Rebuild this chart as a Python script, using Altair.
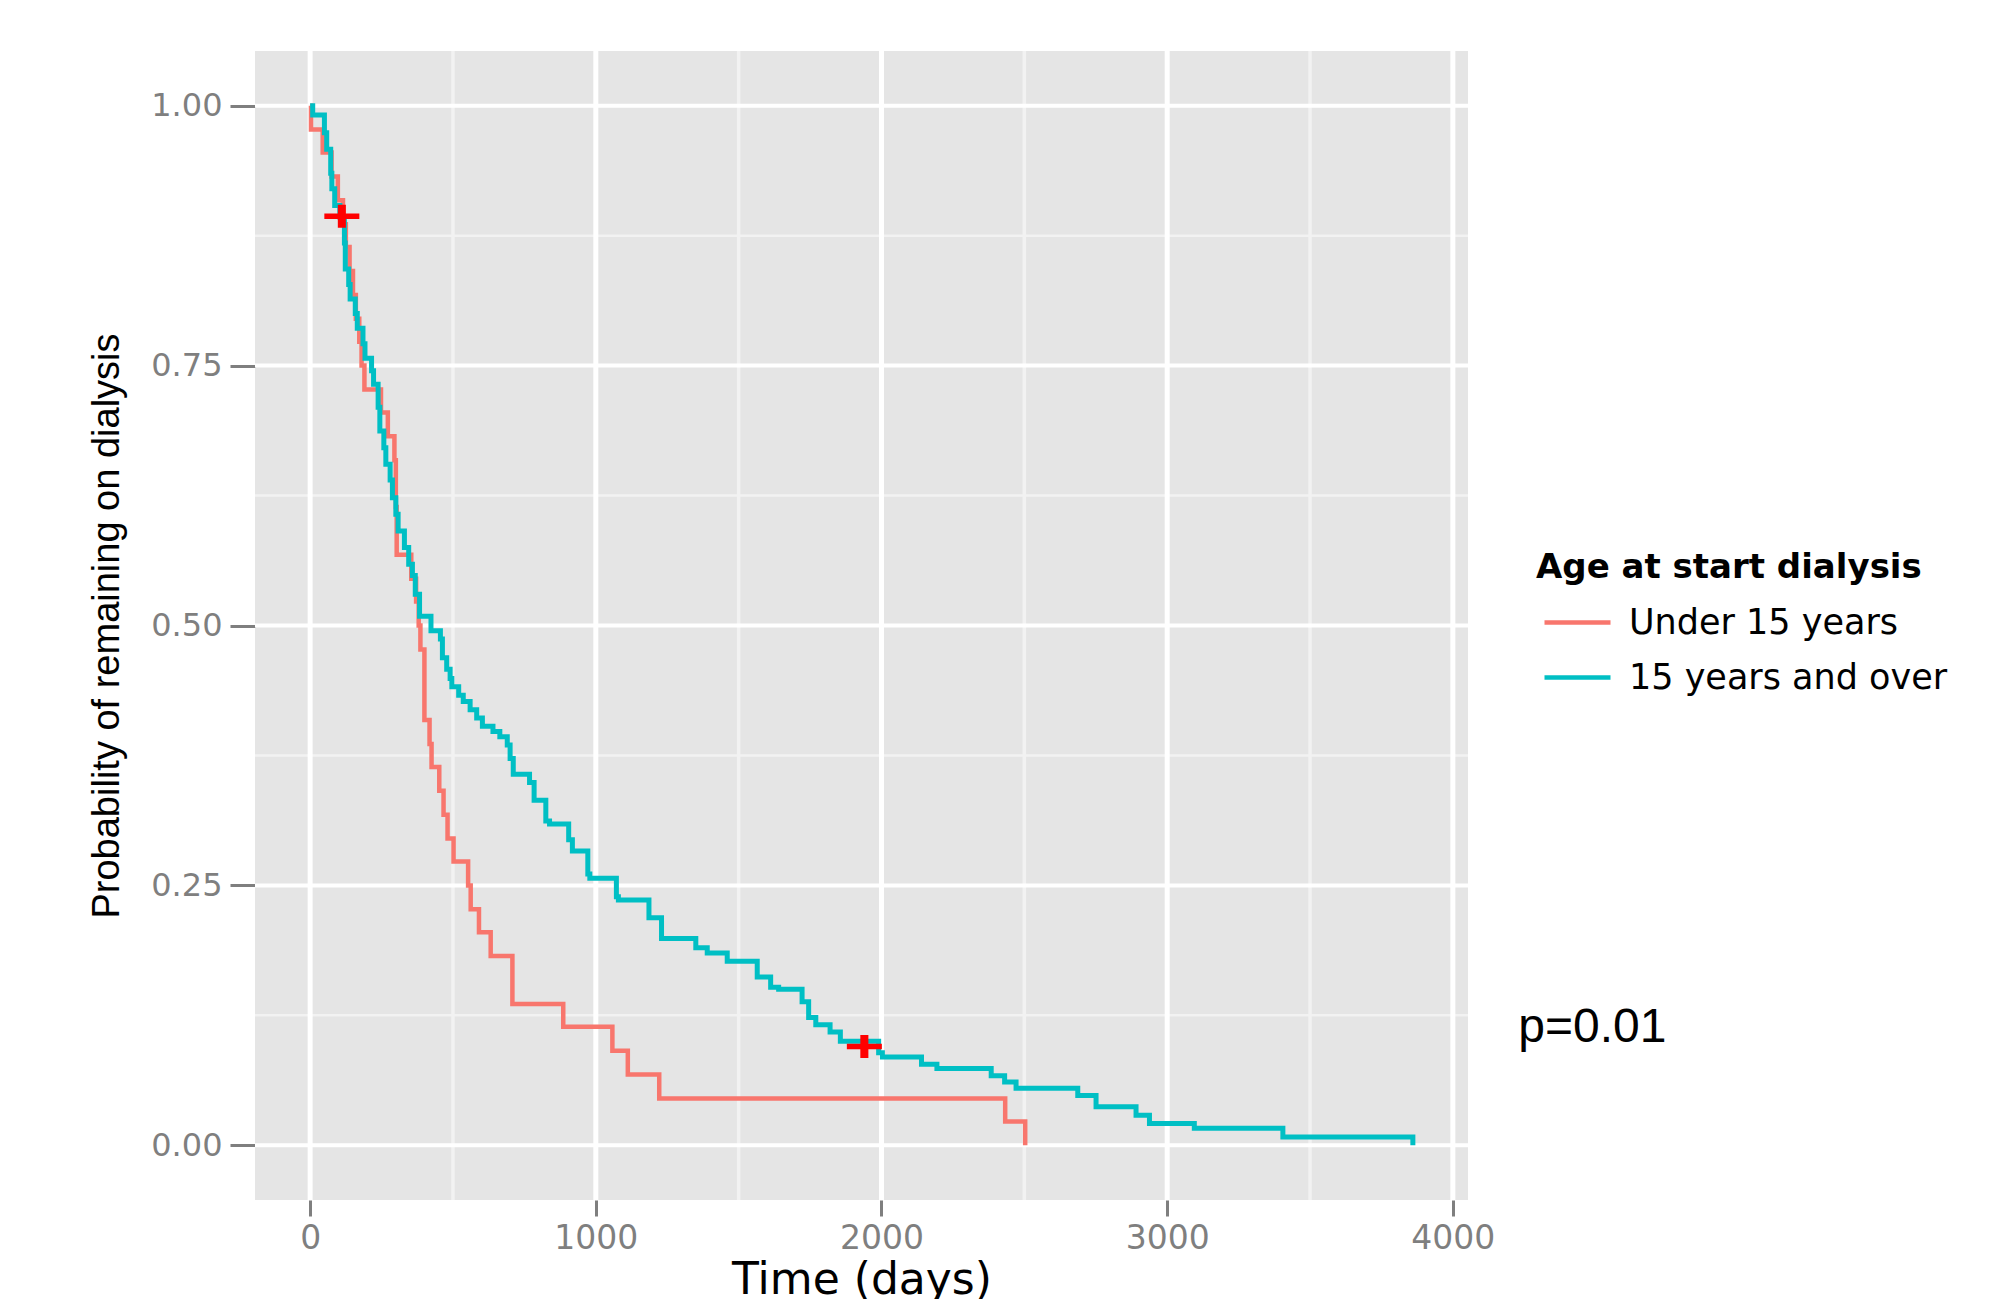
import altair as alt
import pandas as pd

# ---------------- data ----------------
groups = ["Under 15 years", "15 years and over"]
colors = ["#F8766D", "#00BFC4"]

red_t = [0, 3, 44, 75, 97, 115, 125, 138, 150, 160, 172, 180, 190, 248, 272, 295, 300, 303,
         354, 371, 380, 386, 400, 418, 425, 452, 467, 481, 502, 553, 562, 591, 632, 708,
         886, 1058, 1112, 1222, 2433, 2503]
red_s = [1.000, 0.977, 0.955, 0.932, 0.909, 0.886, 0.864, 0.841, 0.818, 0.795, 0.773, 0.750,
         0.727, 0.705, 0.682, 0.659, 0.614, 0.568, 0.545, 0.523, 0.500, 0.477, 0.409, 0.386,
         0.364, 0.341, 0.318, 0.295, 0.273, 0.250, 0.227, 0.205, 0.182, 0.136, 0.114, 0.091,
         0.068, 0.045, 0.023, 0.000]

cyan_t = [0, 9, 50, 58, 72, 76, 86, 104, 120, 123, 135, 140, 158, 165, 185, 192, 215, 222,
          238, 244, 258, 265, 280, 288, 300, 308, 330, 345, 358, 368, 383, 423, 456, 463,
          478, 490, 496, 520, 536, 560, 583, 603, 640, 664, 690, 700, 711, 768, 784, 825,
          838, 905, 918, 972, 979, 1072, 1079, 1186, 1230, 1350, 1390, 1460, 1565, 1612,
          1640, 1722, 1745, 1770, 1820, 1856, 1990, 2003, 2140, 2194, 2384, 2431, 2471,
          2687, 2751, 2891, 2938, 3095, 3405, 3860]
cyan_s = [1.000, 0.991, 0.974, 0.958, 0.935, 0.920, 0.904, 0.893, 0.868, 0.843, 0.828, 0.814,
          0.800, 0.786, 0.771, 0.757, 0.745, 0.732, 0.710, 0.687, 0.671, 0.655, 0.640, 0.623,
          0.607, 0.591, 0.575, 0.559, 0.548, 0.530, 0.509, 0.495, 0.487, 0.469, 0.458, 0.449,
          0.441, 0.433, 0.427, 0.419, 0.411, 0.403, 0.398, 0.393, 0.385, 0.372, 0.357, 0.349,
          0.332, 0.312, 0.309, 0.294, 0.283, 0.261, 0.257, 0.239, 0.236, 0.219, 0.199, 0.190,
          0.185, 0.177, 0.162, 0.152, 0.150, 0.138, 0.123, 0.116, 0.109, 0.100, 0.089, 0.085,
          0.078, 0.074, 0.067, 0.061, 0.055, 0.048, 0.037, 0.029, 0.021, 0.0165, 0.008, 0.000]

censor_t = [111, 1940]
censor_s = [0.8936, 0.095]

x_major = [0, 1000, 2000, 3000, 4000]
x_minor = [500, 1500, 2500, 3500]
y_major = [0.0, 0.25, 0.5, 0.75, 1.0]
y_minor = [0.125, 0.375, 0.625, 0.875]

p_text = ["p=0.01"]
p_t = [4229]
p_s = [0.099]

# ---------------- tables ----------------
curves = pd.DataFrame({
    "t": red_t + cyan_t,
    "s": red_s + cyan_s,
    "group": [groups[0]] * len(red_t) + [groups[1]] * len(cyan_t),
})
censors = pd.DataFrame({"t": censor_t, "s": censor_s})
xmaj = pd.DataFrame({"v": x_major})
xmin = pd.DataFrame({"v": x_minor})
ymaj = pd.DataFrame({"v": y_major})
ymin = pd.DataFrame({"v": y_minor})
ptab = pd.DataFrame({"label": p_text, "t": p_t, "s": p_s})

# ---------------- scales / axes ----------------
xscale = alt.Scale(domain=[-193, 4053], nice=False, zero=False)
yscale = alt.Scale(domain=[-0.0526, 1.0526], nice=False, zero=False)

xaxis = alt.Axis(
    values=x_major, format="d", title="Time (days)", grid=False, domain=False,
    tickSize=16, tickWidth=3, tickColor="#7F7F7F",
    labelFont="DejaVu Sans", labelFontSize=33, labelColor="#7F7F7F", labelPadding=6,
    labelFlush=False, labelOverlap=False,
    titleFont="DejaVu Sans", titleFontSize=44, titleFontWeight="normal",
    titleColor="#000000", titlePadding=3,
)
yaxis = alt.Axis(
    values=y_major, format=".2f", title="Probability of remaining on dialysis",
    grid=False, domain=False,
    tickSize=25, tickWidth=3, tickColor="#7F7F7F",
    labelFont="DejaVu Sans", labelFontSize=32, labelColor="#7F7F7F", labelPadding=8,
    labelOverlap=False,
    titleFont="Liberation Sans", titleFontSize=38,
    titleFontWeight="normal", titleColor="#000000", titlePadding=24,
)


def X(f):
    return alt.X(f"{f}:Q", scale=xscale, axis=xaxis)


def Y(f):
    return alt.Y(f"{f}:Q", scale=yscale, axis=yaxis)


color_enc = alt.Color(
    "group:N",
    scale=alt.Scale(domain=groups, range=colors),
    legend=alt.Legend(
        title="Age at start dialysis", orient="none", legendX=1281, legendY=500,
        padding=0, titleFont="DejaVu Sans", titleFontSize=34, titleFontWeight="bold",
        titleColor="#000000", titlePadding=15, titleLimit=800,
        labelFont="DejaVu Sans", labelFontSize=35, labelColor="#000000", labelLimit=800,
        symbolType="stroke", symbolSize=4356, symbolStrokeWidth=4.5, symbolOffset=6,
        labelOffset=16, clipHeight=45, rowPadding=10,
    ),
)

# ---------------- layers ----------------
g_xmin = alt.Chart(xmin).mark_rule(color="#F2F2F2", strokeWidth=3.5).encode(x=X("v"))
g_ymin = alt.Chart(ymin).mark_rule(color="#F2F2F2", strokeWidth=2.5).encode(y=Y("v"))
g_xmaj = alt.Chart(xmaj).mark_rule(color="#FFFFFF", strokeWidth=5).encode(x=X("v"))
g_ymaj = alt.Chart(ymaj).mark_rule(color="#FFFFFF", strokeWidth=4).encode(y=Y("v"))

red_line = alt.Chart(curves).transform_filter(
    alt.datum.group == groups[0]
).mark_line(interpolate="step-after", strokeWidth=4.5).encode(
    x=X("t"), y=Y("s"), color=color_enc
)
cyan_line = alt.Chart(curves).transform_filter(
    alt.datum.group == groups[1]
).mark_line(interpolate="step-after", strokeWidth=5).encode(
    x=X("t"), y=Y("s"), color=color_enc
)

plus_path = ("M-1,-0.16L-0.23,-0.16L-0.23,-0.66L0.23,-0.66L0.23,-0.16L1,-0.16L1,0.16"
             "L0.23,0.16L0.23,0.66L-0.23,0.66L-0.23,0.16L-1,0.16Z")
marks = alt.Chart(censors).mark_point(
    shape=plus_path, filled=True, color="#FF0000", size=1225, opacity=1, strokeWidth=0
).encode(x=X("t"), y=Y("s"))

ptext = alt.Chart(ptab).mark_text(
    align="left", baseline="alphabetic", font="Liberation Sans", fontSize=48, color="#000000"
).encode(x=X("t"), y=Y("s"), text="label:N")

chart = alt.layer(
    g_xmin, g_ymin, g_xmaj, g_ymaj, red_line, cyan_line, marks, ptext
).properties(
    width=1213, height=1149,
    autosize=alt.AutoSizeParams(type="none"),
    padding={"left": 255, "top": 51, "right": 534, "bottom": 99},
    background="#FFFFFF",
).configure_view(fill="#E5E5E5", strokeWidth=0)

chart.save("out.html", embed_options={"renderer": "svg", "actions": False})
